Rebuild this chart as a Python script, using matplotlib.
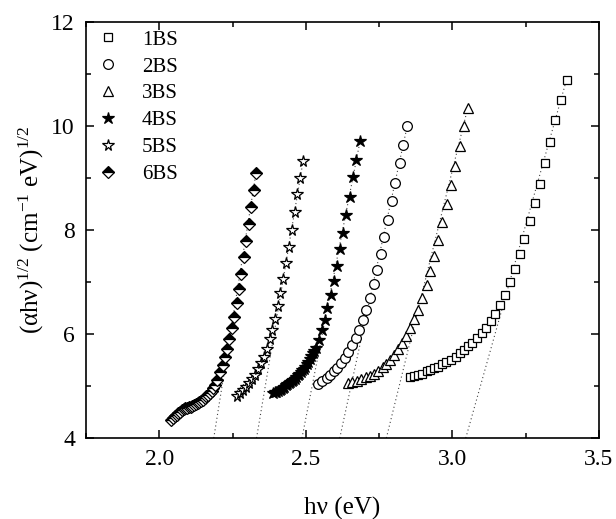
import numpy as np
import matplotlib
matplotlib.use('Agg')
import matplotlib.pyplot as plt

plt.rcParams['font.family'] = ['Liberation Serif', 'DejaVu Serif']
plt.rcParams['mathtext.fontset'] = 'custom'
plt.rcParams['mathtext.rm'] = 'Liberation Serif'
plt.rcParams['mathtext.default'] = 'regular'

# data: photon energy (eV) and (alpha h nu)^1/2
x_1bs = [2.857, 2.871, 2.884, 2.898, 2.912, 2.925, 2.939, 2.952, 2.966, 2.980, 2.996, 3.011,
         3.025, 3.041, 3.055, 3.068, 3.084, 3.100, 3.116, 3.131, 3.147, 3.164, 3.180, 3.197,
         3.213, 3.230, 3.246, 3.264, 3.281, 3.298, 3.315, 3.333, 3.351, 3.370, 3.390]
y_1bs = [5.18, 5.20, 5.22, 5.24, 5.28, 5.31, 5.34, 5.37, 5.42, 5.46, 5.50, 5.56,
         5.63, 5.69, 5.76, 5.83, 5.92, 6.02, 6.12, 6.24, 6.39, 6.56, 6.75, 6.99,
         7.24, 7.53, 7.83, 8.17, 8.52, 8.89, 9.28, 9.69, 10.11, 10.49, 10.89]

x_2bs = [2.543, 2.557, 2.571, 2.583, 2.596, 2.608, 2.621, 2.633, 2.645, 2.658, 2.670, 2.683,
         2.695, 2.707, 2.719, 2.732, 2.744, 2.756, 2.768, 2.781, 2.793, 2.806, 2.820, 2.832, 2.846]
y_2bs = [5.04, 5.10, 5.15, 5.21, 5.28, 5.35, 5.44, 5.53, 5.65, 5.78, 5.92, 6.08,
         6.26, 6.46, 6.70, 6.96, 7.23, 7.54, 7.86, 8.20, 8.55, 8.91, 9.28, 9.63, 9.99]

x_3bs = [2.644, 2.659, 2.674, 2.689, 2.704, 2.718, 2.733, 2.748, 2.762, 2.775, 2.789, 2.802,
         2.816, 2.830, 2.843, 2.857, 2.871, 2.884, 2.898, 2.912, 2.925, 2.939, 2.952, 2.966,
         2.981, 2.994, 3.010, 3.025, 3.039, 3.053]
y_3bs = [5.05, 5.07, 5.10, 5.13, 5.17, 5.20, 5.24, 5.29, 5.36, 5.42, 5.50, 5.60,
         5.71, 5.83, 5.96, 6.11, 6.28, 6.47, 6.70, 6.94, 7.21, 7.49, 7.81, 8.15,
         8.49, 8.87, 9.23, 9.62, 9.99, 10.35]

x_4bs = [2.389, 2.395, 2.400, 2.406, 2.411, 2.417, 2.422, 2.427, 2.432, 2.437, 2.442, 2.447,
         2.452, 2.458, 2.463, 2.468, 2.473, 2.478, 2.483, 2.488, 2.493, 2.498, 2.503, 2.509,
         2.514, 2.519, 2.524, 2.529, 2.534, 2.545, 2.555, 2.565, 2.574, 2.585, 2.597, 2.607,
         2.617, 2.627, 2.637, 2.651, 2.661, 2.672, 2.685]
y_4bs = [4.86, 4.88, 4.89, 4.91, 4.93, 4.95, 4.97, 4.99, 5.01, 5.03, 5.05, 5.08,
         5.10, 5.12, 5.14, 5.17, 5.21, 5.24, 5.27, 5.30, 5.33, 5.37, 5.42, 5.46,
         5.51, 5.57, 5.63, 5.68, 5.74, 5.89, 6.08, 6.27, 6.49, 6.74, 7.01, 7.31,
         7.63, 7.95, 8.29, 8.64, 9.01, 9.35, 9.70]

x_5bs = [2.266, 2.276, 2.286, 2.297, 2.307, 2.317, 2.328, 2.338, 2.348, 2.357, 2.367, 2.377,
         2.385, 2.395, 2.404, 2.412, 2.422, 2.432, 2.442, 2.452, 2.462, 2.470, 2.481, 2.491]
y_5bs = [4.80, 4.86, 4.92, 4.99, 5.05, 5.13, 5.22, 5.32, 5.44, 5.56, 5.72, 5.90,
         6.08, 6.28, 6.53, 6.78, 7.06, 7.36, 7.68, 8.00, 8.34, 8.69, 9.00, 9.33]

x_6bs = [2.041, 2.047, 2.053, 2.059, 2.065, 2.071, 2.077, 2.083, 2.089, 2.095, 2.101, 2.107,
         2.113, 2.119, 2.125, 2.131, 2.137, 2.143, 2.149, 2.155, 2.161, 2.167, 2.173, 2.179,
         2.185, 2.191, 2.198, 2.207, 2.216, 2.224, 2.231, 2.239, 2.247, 2.256, 2.264, 2.272,
         2.280, 2.289, 2.297, 2.306, 2.314, 2.323, 2.330]
y_6bs = [4.35, 4.39, 4.42, 4.45, 4.48, 4.51, 4.53, 4.55, 4.57, 4.58, 4.59, 4.60,
         4.62, 4.63, 4.65, 4.67, 4.69, 4.71, 4.74, 4.77, 4.80, 4.83, 4.87, 4.91,
         4.96, 5.02, 5.12, 5.26, 5.40, 5.56, 5.72, 5.90, 6.11, 6.33, 6.59, 6.86,
         7.15, 7.48, 7.79, 8.12, 8.45, 8.77, 9.09]

# band-gap intercepts of the linear fits (eV)
eg = {'1BS': 3.046, '2BS': 2.616, '3BS': 2.775, '4BS': 2.487, '5BS': 2.332, '6BS': 2.186}

series = [
    ('1BS', x_1bs, y_1bs, dict(marker='s', ms=6.2, mfc='white')),
    ('2BS', x_2bs, y_2bs, dict(marker='o', ms=7.0, mfc='white')),
    ('3BS', x_3bs, y_3bs, dict(marker='^', ms=7.5, mfc='white')),
    ('4BS', x_4bs, y_4bs, dict(marker='*', ms=9.0, mfc='black')),
    ('5BS', x_5bs, y_5bs, dict(marker='*', ms=8.5, mfc='white')),
    ('6BS', x_6bs, y_6bs, dict(marker='D', ms=6.0, mfc='black', fillstyle='top',
                                markerfacecoloralt='white')),
]

fig = plt.figure(figsize=(6.16, 5.19), dpi=100)
ax = fig.add_axes([0.1396, 0.156, 0.8325, 0.802])

for name, xs, ys, style in series:
    # fitted straight line from the x-axis up to the last point
    ax.plot([eg[name], xs[-1]], [4, ys[-1]], color='#444444', lw=0.8,
            linestyle=(0, (1, 2.5)), zorder=1)
for name, xs, ys, style in series:
    ax.plot(xs, ys, linestyle='none', mec='black', mew=0.9, label=name, zorder=3, **style)

ax.set_xlim(1.75, 3.5)
ax.set_ylim(4, 12)
ax.set_xticks([2.0, 2.5, 3.0, 3.5])
ax.set_xticks([1.75, 2.25, 2.75, 3.25], minor=True)
ax.set_yticks([4, 6, 8, 10, 12])
ax.set_yticks([5, 7, 9, 11], minor=True)
ax.tick_params(which='both', direction='in', top=True, right=True, labelsize=17, width=1.1)
ax.tick_params(which='major', length=6, pad=8)
ax.tick_params(which='minor', length=3.5)
for sp in ax.spines.values():
    sp.set_linewidth(1.2)

ax.set_xlabel('hν (eV)', fontsize=18, labelpad=19)
ax.set_ylabel('(αhν)$^{1/2}$ (cm$^{-1}$ eV)$^{1/2}$', fontsize=18, labelpad=4)

ax.legend(loc='upper left', bbox_to_anchor=(-0.013, 1.02), frameon=False, fontsize=15,
          handlelength=1.2, handletextpad=1.0, labelspacing=0.35, borderpad=0.3,
          numpoints=1)

plt.savefig('out.png', dpi=100)
